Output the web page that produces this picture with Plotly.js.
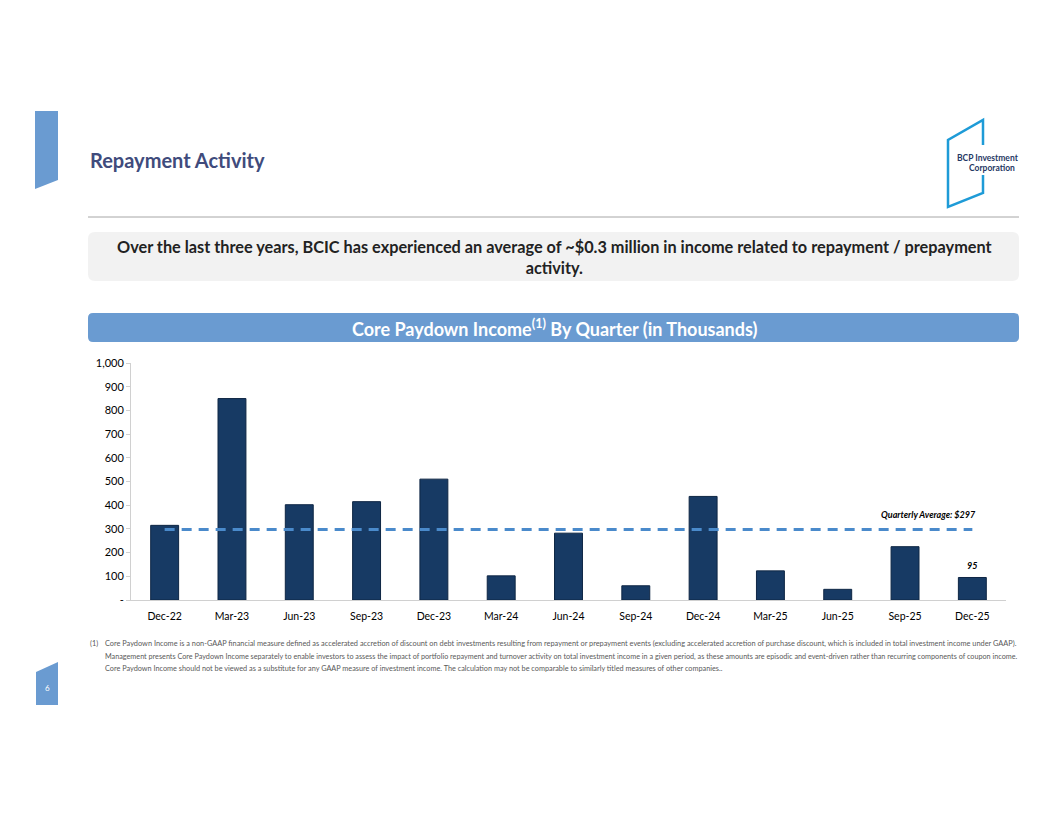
<!DOCTYPE html>
<html><head><meta charset="utf-8">
<script src="https://cdn.plot.ly/plotly-3.0.1.min.js"></script>
<style>html,body{margin:0;padding:0;background:#fff;}#chart{width:1056px;height:816px;}</style>
</head><body><div id="chart"></div>
<script>
const categories = ["Dec-22","Mar-23","Jun-23","Sep-23","Dec-23","Mar-24","Jun-24","Sep-24","Dec-24","Mar-25","Jun-25","Sep-25","Dec-25"];
const paydownIncome = [315, 850, 402, 415, 510, 102, 282, 60, 437, 123, 45, 225, 95];
const quarterlyAverage = 297;
const yTickVals = [0,100,200,300,400,500,600,700,800,900,1000];
const yTickText = ["-","100","200","300","400","500","600","700","800","900","1,000"];
const footnoteLines = [
  "Core Paydown Income is a non-GAAP financial measure defined as accelerated accretion of discount on debt investments resulting from repayment or prepayment events (excluding accelerated accretion of purchase discount, which is included in total investment income under GAAP).",
  "Management presents Core Paydown Income separately to enable investors to assess the impact of portfolio repayment and turnover activity on total investment income in a given period, as these amounts are episodic and event-driven rather than recurring components of coupon income.",
  "Core Paydown Income should not be viewed as a substitute for any GAAP measure of investment income. The calculation may not be comparable to similarly titled measures of other companies.."
];

const W = 1056, H = 816;
const px = x => x / W, py = y => 1 - y / H;
function poly(pts){ return "M" + pts.map(p => px(p[0]) + "," + py(p[1])).join(" L") + " Z"; }
function rrect(x0,y0,x1,y1,r){
  return "M"+px(x0+r)+","+py(y0)+" L"+px(x1-r)+","+py(y0)+" Q"+px(x1)+","+py(y0)+" "+px(x1)+","+py(y0+r)+
    " L"+px(x1)+","+py(y1-r)+" Q"+px(x1)+","+py(y1)+" "+px(x1-r)+","+py(y1)+
    " L"+px(x0+r)+","+py(y1)+" Q"+px(x0)+","+py(y1)+" "+px(x0)+","+py(y1-r)+
    " L"+px(x0)+","+py(y0+r)+" Q"+px(x0)+","+py(y0)+" "+px(x0+r)+","+py(y0)+" Z";
}
const FONT = "Lato, 'Open Sans', sans-serif";
const shapes = [
  {type:"path", xref:"paper", yref:"paper", path: poly([[35,111],[58,111],[58,180],[35,189]]), fillcolor:"#6A9BD1", line:{width:0}},
  {type:"line", xref:"paper", yref:"paper", x0:px(88), x1:px(1019), y0:py(217), y1:py(217), line:{color:"#A6A6A6", width:1}},
  {type:"path", xref:"paper", yref:"paper", path: rrect(88,232,1019,281,7), fillcolor:"#F2F2F2", line:{width:0}},
  {type:"path", xref:"paper", yref:"paper", path: rrect(88,313,1019,342,5), fillcolor:"#6A9BD1", line:{width:0}},
  {type:"path", xref:"paper", yref:"paper", path: poly([[36,672],[58,662],[58,705],[36,705]]), fillcolor:"#6A9BD1", line:{width:0}},
  {type:"path", xref:"paper", yref:"paper", path: "M"+px(983)+","+py(145)+" L"+px(983)+","+py(120)+" L"+px(948)+","+py(140)+" L"+px(948)+","+py(207)+" L"+px(983)+","+py(193)+" L"+px(983)+","+py(175), line:{color:"#1E9BD7", width:2.5}}
];
const annotations = [
  {xref:"paper", yref:"paper", x:px(88), y:py(160), xanchor:"left", yanchor:"middle", showarrow:false,
   text:"<b>Repayment Activity</b>", font:{family:FONT, size:20, color:"#404B7C", weight:900}},
  {xref:"paper", yref:"paper", x:px(955), y:py(158), xanchor:"left", yanchor:"middle", showarrow:false,
   text:"<b>BCP Investment</b>", font:{family:FONT, size:8.5, color:"#1F3864"}},
  {xref:"paper", yref:"paper", x:px(967), y:py(168), xanchor:"left", yanchor:"middle", showarrow:false,
   text:"<b>Corporation</b>", font:{family:FONT, size:8.5, color:"#1F3864"}},
  {xref:"paper", yref:"paper", x:px(554), y:py(257), xanchor:"center", yanchor:"middle", showarrow:false, align:"center",
   text:"<b>Over the last three years, BCIC has experienced an average of ~$0.3 million in income related to repayment / prepayment<br>activity.</b>",
   font:{family:FONT, size:16.3, color:"#222222"}},
  {xref:"paper", yref:"paper", x:px(554), y:py(328), xanchor:"center", yanchor:"middle", showarrow:false,
   text:"<b>Core Paydown Income<sup>(1)</sup> By Quarter (in Thousands)</b>", font:{family:FONT, size:18, color:"#FFFFFF"}},
  {xref:"paper", yref:"paper", x:px(47), y:py(688), xanchor:"center", yanchor:"middle", showarrow:false,
   text:"6", font:{family:FONT, size:8, color:"#FFFFFF"}},
  {xref:"x", yref:"y", x:12.08, y:360, xanchor:"right", yanchor:"middle", showarrow:false,
   text:"<b><i>Quarterly Average: $"+quarterlyAverage+"</i></b>", font:{family:FONT, size:9, color:"#000000"}},
  {xref:"x", yref:"y", x:categories[categories.length-1], y:paydownIncome[paydownIncome.length-1], xanchor:"center", yanchor:"bottom", yshift:4, showarrow:false,
   text:"<b><i>"+paydownIncome[paydownIncome.length-1]+"</i></b>", font:{family:FONT, size:9, color:"#000000"}},
  {xref:"paper", yref:"paper", x:px(88), y:py(643), xanchor:"left", yanchor:"middle", showarrow:false,
   text:"(1)", font:{family:FONT, size:7.3, color:"#595959"}}
];
const fnY = [643, 656, 668];
const fnSize = [7.37, 7.24, 7.3];
footnoteLines.forEach((t,i) => annotations.push({xref:"paper", yref:"paper", x:px(103), y:py(fnY[i]), xanchor:"left", yanchor:"middle", showarrow:false,
  text:t, font:{family:FONT, size:fnSize[i], color:"#595959"}}));
const traces = [
  {type:"bar", x:categories, y:paydownIncome, marker:{color:"#173A64", line:{color:"#0E2644", width:1}}, hoverinfo:"x+y"},
  {type:"scatter", mode:"lines", x:[categories[0], categories[categories.length-1]], y:[quarterlyAverage, quarterlyAverage],
   line:{color:"#4A8ACB", width:3, dash:"10px,7px"}, hoverinfo:"y"}
];
const layout = {
  width:W, height:H, margin:{l:0,r:0,t:0,b:0}, paper_bgcolor:"#fff", plot_bgcolor:"#fff",
  showlegend:false, bargap:0.585, font:{family:FONT},
  xaxis:{domain:[px(131), px(1006)], range:[-0.5, 12.5], type:"category", showline:true, linecolor:"#D0D0D0", linewidth:1,
    ticks:"", showgrid:false, tickfont:{family:FONT, size:10.5, color:"#000"}, ticklabelstandoff:6, zeroline:false},
  yaxis:{domain:[py(600), py(363)], range:[0,1000], tickvals:yTickVals, ticktext:yTickText, showline:true, linecolor:"#D0D0D0", linewidth:1,
    ticks:"outside", ticklen:4, tickcolor:"#D0D0D0", showgrid:false, zeroline:false, tickfont:{family:FONT, size:11, color:"#000"}},
  shapes:shapes, annotations:annotations
};
Plotly.newPlot("chart", traces, layout, {displayModeBar:false, staticPlot:true});
</script></body></html>
